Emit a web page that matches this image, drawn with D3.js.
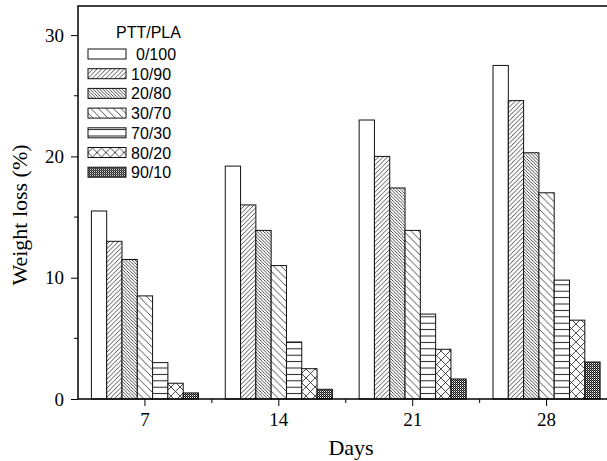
<!DOCTYPE html>
<html>
<head>
<meta charset="utf-8">
<script src="https://cdn.jsdelivr.net/npm/d3@7"></script>
<style>
body { margin: 0; background: #fff; overflow: hidden; }
svg { display: block; }
</style>
</head>
<body>
<div id="canvas"></div>
<script>
var days = ["7", "14", "21", "28"]
var series = ["0/100", "10/90", "20/80", "30/70", "70/30", "80/20", "90/10"]
var values = [
    [15.5, 19.2, 23.0, 27.5],  // 0/100
    [13.0, 16.0, 20.0, 24.6],  // 10/90
    [11.5, 13.9, 17.4, 20.3],  // 20/80
    [8.5, 11.0, 13.9, 17.0],   // 30/70
    [3.0, 4.7, 7.0, 9.8],      // 70/30
    [1.3, 2.5, 4.1, 6.5],      // 80/20
    [0.5, 0.8, 1.65, 3.05]     // 90/10
]
var yTicks = [0, 10, 20, 30]
var yMinor = [5, 15, 25]

var width = 607
var height = 461
var padLeft = 78, padRight = 613.5, padTop = 6, padBottom = 399

var svg = d3.select("#canvas")
    .append("svg")
    .attr("width", width)
    .attr("height", height)

// patterns
var defs = svg.append("defs")
function pat(id, w, h, draw) {
    var p = defs.append("pattern")
        .attr("id", id)
        .attr("patternUnits", "userSpaceOnUse")
        .attr("width", w).attr("height", h)
    p.append("rect").attr("width", w).attr("height", h).attr("fill", "#fff")
    draw(p)
}
var lc = "#222", lw = 0.8
pat("p0", 4, 4, function (p) { })
pat("p1", 4.5, 4.5, function (p) {
    p.append("path").attr("d", "M-1,5.5 L5.5,-1 M-1,1 L1,-1 M3.5,5.5 L5.5,3.5")
        .attr("stroke", lc).attr("stroke-width", lw)
})
pat("p2", 3.2, 3.2, function (p) {
    p.append("path").attr("d", "M-1,-1 L4.2,4.2 M-1,2.2 L1,4.2 M2.2,-1 L4.2,1")
        .attr("stroke", lc).attr("stroke-width", lw)
})
pat("p3", 7.5, 7.5, function (p) {
    p.append("path").attr("d", "M-1,-1 L8.5,8.5 M-1,6.5 L1,8.5 M6.5,-1 L8.5,1")
        .attr("stroke", lc).attr("stroke-width", lw)
})
pat("p4", 10, 6.4, function (p) {
    p.append("path").attr("d", "M0,3.2 L10,3.2")
        .attr("stroke", lc).attr("stroke-width", 1)
})
pat("p5", 9, 9, function (p) {
    p.append("path").attr("d", "M-1,-1 L10,10 M-1,10 L10,-1")
        .attr("stroke", lc).attr("stroke-width", lw)
})
pat("p6", 2, 2, function (p) {
    p.append("rect").attr("x", 0).attr("y", 0).attr("width", 1).attr("height", 1).attr("fill", "#111")
    p.append("rect").attr("x", 1).attr("y", 1).attr("width", 1).attr("height", 1).attr("fill", "#111")
    p.append("rect").attr("x", 1).attr("y", 0).attr("width", 1).attr("height", 1).attr("fill", "#777")
})

var xScale = d3.scaleBand().domain(days).range([padLeft, padRight])
    .paddingInner(0.2).paddingOuter(0.1)
var inner = d3.scaleBand().domain(series).range([0, xScale.bandwidth()])
var yScale = d3.scaleLinear().domain([0, 32.4]).range([padBottom, padTop])

// bars
series.forEach(function (s, i) {
    svg.append("g").selectAll("rect")
        .data(values[i])
        .enter()
        .append("rect")
        .attr("x", function (d, j) { return xScale(days[j]) + inner(s) })
        .attr("y", function (d) { return yScale(d) })
        .attr("width", inner.bandwidth())
        .attr("height", function (d) { return padBottom - yScale(d) })
        .attr("fill", "url(#p" + i + ")")
        .attr("stroke", "#111")
        .attr("stroke-width", 1)
})

// frame: top, left, bottom (right side falls outside the picture)
svg.append("path")
    .attr("d", `M${width},${padTop} L${padLeft},${padTop} L${padLeft},${padBottom} L${width},${padBottom}`)
    .attr("fill", "none").attr("stroke", "#000").attr("stroke-width", 1.5)

// axes
var xAxis = svg.append("g")
    .attr("transform", `translate(0,${padBottom})`)
    .call(d3.axisBottom(xScale).tickSize(7).tickPadding(7).tickSizeOuter(0))
xAxis.select(".domain").remove()
var step = xScale.step()
svg.append("g").selectAll("line")
    .data(days.slice(0, 3))
    .enter()
    .append("line")
    .attr("x1", function (d) { return xScale(d) + xScale.bandwidth() / 2 + step / 2 })
    .attr("x2", function (d) { return xScale(d) + xScale.bandwidth() / 2 + step / 2 })
    .attr("y1", padBottom).attr("y2", padBottom + 4)
    .attr("stroke", "#000")

var yAxis = svg.append("g")
    .attr("transform", `translate(${padLeft},0)`)
    .call(d3.axisLeft(yScale).tickValues(yTicks).tickSize(7).tickPadding(7).tickSizeOuter(0))
yAxis.select(".domain").remove()
svg.append("g").selectAll("line")
    .data(yMinor)
    .enter()
    .append("line")
    .attr("x1", padLeft - 4).attr("x2", padLeft)
    .attr("y1", function (d) { return yScale(d) })
    .attr("y2", function (d) { return yScale(d) })
    .attr("stroke", "#000")

svg.selectAll(".tick text")
    .style("font-family", "'Liberation Serif', 'Times New Roman', serif")
    .style("font-size", "19px")
    .attr("fill", "#000")
svg.selectAll(".tick line").attr("stroke", "#000")

svg.append("text")
    .attr("x", 351)
    .attr("y", 455)
    .attr("text-anchor", "middle")
    .style("font-family", "'Liberation Serif', 'Times New Roman', serif")
    .style("font-size", "22px")
    .text("Days")

svg.append("text")
    .attr("transform", "translate(27,215) rotate(-90)")
    .attr("text-anchor", "middle")
    .style("font-family", "'Liberation Serif', 'Times New Roman', serif")
    .style("font-size", "22px")
    .text("Weight loss (%)")

// legend
var legend = svg.append("g")
legend.append("text")
    .attr("x", 116).attr("y", 38)
    .style("font-family", "'Liberation Sans', Arial, sans-serif")
    .style("font-size", "16px")
    .text("PTT/PLA")
var rows = legend.selectAll(".row")
    .data(series)
    .enter()
    .append("g")
    .attr("transform", function (d, i) { return `translate(88,${54 + i * 19.7})` })
rows.append("rect")
    .attr("x", 0).attr("y", -5)
    .attr("width", 38).attr("height", 10)
    .attr("fill", function (d, i) { return "url(#p" + i + ")" })
    .attr("stroke", "#111")
rows.append("text")
    .attr("x", function (d, i) { return i == 0 ? 48 : 43 })
    .attr("y", 6)
    .style("font-family", "'Liberation Sans', Arial, sans-serif")
    .style("font-size", "16px")
    .text(function (d) { return d })
</script>
</body>
</html>
